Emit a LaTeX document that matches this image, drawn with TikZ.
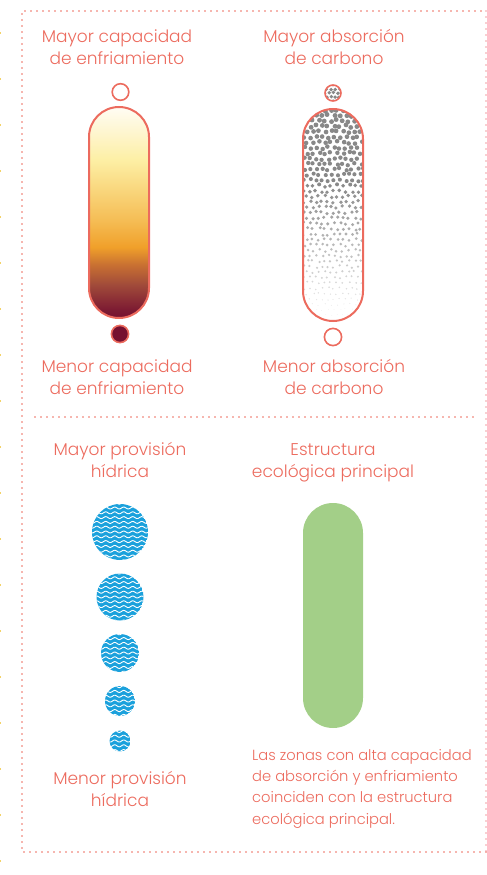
\documentclass[tikz,border=0pt]{standalone}
\usepackage{fontspec}
\setmainfont{Poppins Light}
\begin{document}
\begin{tikzpicture}[x=1pt,y=-1pt]
\definecolor{salmon}{HTML}{EC6B5E}
\definecolor{pinkdot}{HTML}{F2A0A4}
\definecolor{water}{HTML}{1BA1DC}
\definecolor{leaf}{HTML}{A3CF88}
\definecolor{dotgray}{HTML}{888888}
\definecolor{edgemark}{HTML}{F3D36A}
\definecolor{g1}{HTML}{FFFDF4}
\definecolor{g2}{HTML}{FEF6D2}
\definecolor{g3}{HTML}{FDEFA4}
\definecolor{g4}{HTML}{F9D67C}
\definecolor{g5}{HTML}{F5BD55}
\definecolor{g6}{HTML}{F0A02A}
\definecolor{g7}{HTML}{C87032}
\definecolor{g8}{HTML}{A04A3A}
\definecolor{g9}{HTML}{7C1A32}
\definecolor{g10}{HTML}{761030}
\pgfdeclareverticalshading{cool}{100bp}{color(0bp)=(g10); color(25bp)=(g10); color(26.9bp)=(g9); color(32.8bp)=(g8); color(37.6bp)=(g7); color(41.8bp)=(g6); color(48.2bp)=(g5); color(55.3bp)=(g4); color(62.4bp)=(g3); color(69.5bp)=(g2); color(75bp)=(g1); color(100bp)=(g1)}
\tikzset{
  headtxt/.style={text=salmon, font=\fontsize{17}{22}\selectfont, anchor=base, inner sep=0pt},
  paratxt/.style={text=salmon, font=\fontsize{14.7}{21}\selectfont, anchor=base west, inner sep=0pt},
  dotline/.style={line width=1.8pt, dash pattern=on 0pt off 6pt, line cap=round},
  pillline/.style={draw=salmon, line width=2pt, rounded corners=30pt},
}
\useasboundingbox (0,0) rectangle (487,875);
% left edge marks
\foreach \k in {0,...,18}{
  \fill[edgemark] (0,{33+46*\k-0.7}) rectangle (1.3,{33+46*\k+0.7});
}
% border
\coordinate (tl) at (22,11);
\coordinate (tr) at (486,11);
\coordinate (bl) at (22,852);
\coordinate (br) at (486,852);
\draw[dotline, salmon] (br) -- (bl) -- (tl) -- (tr);
\draw[dotline, pinkdot] (tr) -- (br);
\coordinate (ml) at (35,417);
\coordinate (mr) at (474,417);
\draw[dotline, salmon] (ml) -- (mr);

% ---------- top left: cooling ----------
\node[headtxt] (t1a) at (117,43) {Mayor capacidad};
\node[headtxt] (t1b) at (117,65) {de enfriamiento};
\draw[salmon, line width=1.6pt] (120.5,92) circle[radius=8.3pt];
\shadedraw[shading=cool, pillline] (89,107) rectangle (149,318);
\draw[salmon, line width=1.6pt, fill=g10] (120,334) circle[radius=8.6pt];
\node[headtxt] (t2a) at (117,372) {Menor capacidad};
\node[headtxt] (t2b) at (117,394) {de enfriamiento};

% ---------- top right: carbon ----------
\node[headtxt] (t3a) at (334,43) {Mayor absorción};
\node[headtxt] (t3b) at (334,65) {de carbono};
\pgfmathsetseed{11}
\begin{scope}
  \clip (333,93) circle[radius=7.5pt];
  \fill[white] (333,93) circle[radius=8pt];
  \foreach \row in {0,...,4}{
    \foreach \col in {0,...,4}{
      \pgfmathsetmacro\xx{324.5+\col*4.2+mod(\row,2)*2+rand*0.8}
      \pgfmathsetmacro\yy{85+\row*4+rand*0.8}
      \fill[dotgray] (\xx,\yy) circle[radius=1.9pt];
    }
  }
\end{scope}
\draw[salmon, line width=1.6pt] (333,93) circle[radius=8pt];
\begin{scope}
  \clip[rounded corners=30pt] (303,109) rectangle (363,321);
  \foreach \row in {0,...,38}{
    \foreach \col in {0,...,10}{
      \pgfmathsetmacro\yy{110+\row*5.4+rand*1.3}
      \pgfmathsetmacro\xx{301+\col*6+mod(\row,2)*3+rand*1.3}
      \pgfmathsetmacro\tt{max(0.01,min(0.99,(\yy-110)/205))}
      \pgfmathsetmacro\rr{max(0.4,2.5*(1-\tt)^0.5)}
      \pgfmathsetmacro\op{max(0.06,min(1,1.5-\tt*1.4))}
      \fill[dotgray, opacity=\op] (\xx,\yy) circle[radius=\rr pt];
    }
  }
\end{scope}
\draw[pillline] (303,109) rectangle (363,321);
\draw[salmon, line width=1.6pt] (333,337) circle[radius=8.6pt];
\node[headtxt] (t4a) at (334,372) {Menor absorción};
\node[headtxt] (t4b) at (334,394) {de carbono};

% ---------- bottom left: water ----------
\node[headtxt] (t5a) at (120,455) {Mayor provisión};
\node[headtxt] (t5b) at (120,477) {hídrica};
\foreach \cx/\cy/\r in {120/532/28, 120/597/23.5, 120/653/19, 120/701/15, 120/741/10.5}{
  \begin{scope}
    \clip (\cx,\cy) circle[radius=\r pt];
    \fill[water] (\cx,\cy) circle[radius=\r pt];
    \pgfmathsetmacro\xa{\cx-\r-2}
    \pgfmathsetmacro\xb{\cx+\r+2}
    \foreach \k in {-6,...,6}{
      \draw[white, line width=0.9pt] plot[domain=\xa:\xb, samples=50, smooth] (\x,{\cy+\k*4.8+1.0*sin(40*\x)});
    }
  \end{scope}
}
\node[headtxt] (t6a) at (120,784) {Menor provisión};
\node[headtxt] (t6b) at (120,806) {hídrica};

% ---------- bottom right: structure ----------
\node[headtxt] (t7a) at (333,455) {Estructura};
\node[headtxt] (t7b) at (333,477) {ecológica principal};
\fill[leaf, rounded corners=30pt] (303,503) rectangle (363,728);
\node[paratxt] (p1) at (252,760) {Las zonas con alta capacidad};
\node[paratxt] (p2) at (252,781.3) {de absorción y enfriamiento};
\node[paratxt] (p3) at (252,802.6) {coinciden con la estructura};
\node[paratxt] (p4) at (252,824) {ecológica principal.};
\end{tikzpicture}
\end{document}
